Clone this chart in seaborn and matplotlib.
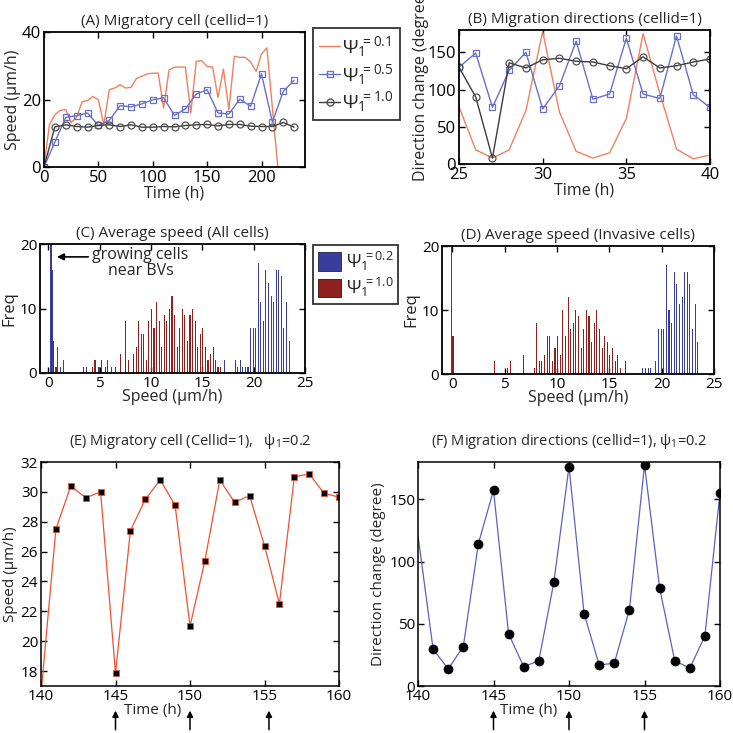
import numpy as np
import pandas as pd
import matplotlib
matplotlib.use("Agg")
import matplotlib.pyplot as plt
from matplotlib.patches import Patch
from matplotlib.lines import Line2D
import seaborn as sns

# ---------------- data ----------------
# (A) speed vs time
time_a_01 = [0, 5, 10, 15, 20, 25, 30, 35, 40, 45, 50, 55, 60, 65, 70, 75, 80, 85, 90, 95, 100,
             105, 110, 115, 120, 125, 130, 135, 140, 145, 150, 155, 160, 165, 170, 175, 180, 185,
             190, 195, 200, 205, 210, 215]
speed_a_01 = [0, 12.5, 15.5, 16.8, 17.0, 13.2, 14.7, 19.3, 19.7, 20.9, 19.9, 12.5, 22.9, 23.4, 24.4,
              23.4, 23.6, 26.2, 26.9, 27.6, 27.8, 27.8, 17.5, 28.8, 29.6, 29.6, 29.6, 16.0, 31.3,
              31.5, 29.8, 29.6, 20.6, 29.0, 17.0, 32.8, 32.5, 32.5, 31.1, 28.3, 33.5, 35.3, 17.5, 0]
time_a = [0, 10, 20, 30, 40, 50, 60, 70, 80, 90, 100, 110, 120, 130, 140, 150, 160, 170, 180, 190,
          200, 210, 220, 230]
speed_a_05 = [0, 7.4, 14.7, 15.2, 16.0, 12.3, 13.8, 18.2, 17.8, 18.7, 19.9, 20.5, 15.3, 17.2, 21.6,
              22.9, 16.0, 15.7, 20.1, 18.0, 27.6, 13.3, 22.4, 25.7]
speed_a_10 = [0, 11.9, 12.5, 12.0, 11.8, 12.3, 12.5, 12.0, 12.5, 11.8, 11.8, 12.0, 11.9, 12.3, 12.5,
              12.6, 12.2, 12.6, 12.6, 12.1, 12.0, 12.0, 13.2, 11.8]
labels_a = [r"$\Psi_1\!\!{}^{=0.1}$", r"$\Psi_1\!\!{}^{=0.5}$", r"$\Psi_1\!\!{}^{=1.0}$"]

# (B) direction change vs time
time_b = [25, 26, 27, 28, 29, 30, 31, 32, 33, 34, 35, 36, 37, 38, 39, 40]
dir_b_01 = [77, 19, 8, 19, 72, 178, 70, 17, 8, 15, 61, 175, 95, 20, 7, 12]
dir_b_05 = [130, 149, 76, 126, 150, 74, 105, 165, 87, 94, 169, 94, 88, 172, 93, 76]
dir_b_10 = [130, 90, 8, 136, 129, 140, 142, 138, 137, 132, 128, 144, 129, 132, 137, 141]

# (C) average speed histogram, all cells
c_blue_speed = [0.25, 0.5, 0.75, 1.0, 1.25, 1.5, 3.5, 3.75, 5.0, 5.25, 6.25, 16.5, 17.25, 18.25,
                18.5, 18.75, 19.0, 19.25, 19.5, 19.75, 20.0, 20.25, 20.5, 20.75, 21.0, 21.25, 21.5,
                21.75, 22.0, 22.25, 22.5, 22.75, 23.0, 23.25, 23.5]
c_blue_freq = [25, 16, 1, 4, 1, 2, 1, 1, 1, 2, 1, 1, 2, 2, 1, 2, 1, 1, 1, 7, 7, 7, 17, 11, 8, 16, 14,
               12, 11, 16, 16, 15, 7, 11, 5]
c_red_speed = [0.25, 0.5, 0.75, 4.25, 4.5, 5.5, 5.75, 6.5, 7.0, 7.5, 7.75, 8.25, 8.5, 8.75, 9.0,
               9.25, 9.5, 9.75, 10.0, 10.25, 10.5, 10.75, 11.0, 11.25, 11.5, 11.75, 12.0, 12.25,
               12.5, 12.75, 13.0, 13.25, 13.5, 13.75, 14.0, 14.25, 14.5, 14.75, 15.0, 15.25, 15.5,
               15.75, 16.0, 16.25, 16.5, 16.75]
c_red_freq = [25, 5, 1, 1, 2, 1, 2, 1, 3, 8, 2, 3, 4, 8, 6, 6, 2, 8, 10, 7, 11, 8, 4, 9, 8, 10, 12,
              9, 4, 7, 10, 9, 5, 9, 10, 8, 4, 6, 7, 4, 2, 3, 4, 2, 1, 1]

# (D) average speed histogram, invasive cells
d_blue_speed = [0.0, 18.25, 18.5, 18.75, 19.0, 19.5, 19.75, 20.0, 20.25, 20.5, 20.75, 21.0, 21.25,
                21.5, 21.75, 22.0, 22.25, 22.5, 22.75, 23.0, 23.25, 23.5]
d_blue_freq = [25, 1, 1, 1, 1, 2, 7, 7, 7, 17, 10, 8, 16, 14, 11, 12, 16, 16, 14, 7, 11, 5]
d_red_speed = [0.0, 4.0, 5.25, 5.5, 6.75, 7.75, 8.0, 8.25, 8.5, 8.75, 9.0, 9.25, 9.5, 9.75, 10.0,
               10.25, 10.5, 10.75, 11.0, 11.25, 11.5, 11.75, 12.0, 12.25, 12.5, 12.75, 13.0, 13.25,
               13.5, 13.75, 14.0, 14.25, 14.5, 14.75, 15.0, 15.25, 15.5, 15.75, 16.0, 16.5]
d_red_freq = [6, 2, 1, 2, 3, 1, 8, 2, 2, 3, 6, 6, 2, 4, 6, 3, 10, 6, 12, 7, 8, 10, 9, 4, 7, 10, 9,
              5, 8, 10, 7, 4, 6, 5, 3, 4, 2, 3, 1, 2]
labels_hist = [r"$\Psi_1\!\!{}^{=0.2}$", r"$\Psi_1\!\!{}^{=1.0}$"]

# (E)/(F) single cell, psi=0.2
time_ef = [140, 141, 142, 143, 144, 145, 146, 147, 148, 149, 150, 151, 152, 153, 154, 155, 156,
           157, 158, 159, 160]
speed_e = [16.5, 27.5, 30.4, 29.6, 30.0, 17.85, 27.4, 29.5, 30.8, 29.1, 21.0, 25.4, 30.8, 29.3,
           29.75, 26.4, 22.5, 31.0, 31.2, 29.9, 29.65]
dir_f = [121, 29.6, 13.7, 31.7, 114.5, 157.3, 41.9, 15.6, 20.2, 83.6, 176.3, 58.1, 16.9, 18.3,
         61.3, 177.7, 78.8, 20.4, 14.2, 40.3, 155.4]
arrow_times_e = [145, 150, 155.3]
arrow_times_f = [145, 150, 155]

# ---------------- style ----------------
sns.set_theme(style="ticks")
plt.rcParams["font.family"] = ["Open Sans", "DejaVu Sans"]
plt.rcParams["mathtext.fontset"] = "custom"
plt.rcParams["mathtext.rm"] = "Open Sans"
plt.rcParams["mathtext.it"] = "Open Sans:italic"
plt.rcParams["mathtext.bf"] = "Open Sans:bold"

ORANGE = "#f0805f"
LBLUE = "#6a70c8"
DGRAY = "#3c3c3c"
HBLUE = "#3a3d9c"
HRED = "#8e2020"

W = 733.0
fig = plt.figure(figsize=(7.33, 7.33), dpi=100)


def axes_px(l, t, r, b):
    return fig.add_axes([l / W, 1 - b / W, (r - l) / W, (b - t) / W])


def style_ax(ax, lw=1.3, tick_fs=12):
    for s in ax.spines.values():
        s.set_visible(True)
        s.set_linewidth(lw)
        s.set_color("black")
    ax.tick_params(direction="in", top=True, right=True, length=4, width=1,
                   labelsize=tick_fs, pad=2, colors="black")
    ax.set_facecolor("white")
    ax.grid(False)


# ---- (A)
axA = axes_px(44, 32, 305, 167)
sns.lineplot(x=time_a_01, y=speed_a_01, ax=axA, color=ORANGE, lw=1.0, sort=False, estimator=None)
sns.lineplot(x=time_a, y=speed_a_05, ax=axA, color=LBLUE, lw=1.0, marker="s", markersize=4.5,
             markerfacecolor="none", markeredgecolor=LBLUE, markeredgewidth=0.9, sort=False,
             estimator=None)
sns.lineplot(x=time_a, y=speed_a_10, ax=axA, color=DGRAY, lw=1.0, marker="o", markersize=5,
             markerfacecolor="none", markeredgecolor="#505050", markeredgewidth=0.9, sort=False,
             estimator=None)
axA.set_xlim(0, 240)
axA.set_ylim(0, 40)
axA.set_xticks([0, 50, 100, 150, 200])
axA.set_yticks([0, 20, 40])
style_ax(axA)
axA.set_xlabel("Time (h)", fontsize=11.5, labelpad=0)
axA.set_ylabel("Speed (μm/h)", fontsize=11.5, labelpad=1)
axA.set_title("(A) Migratory cell (cellid=1)", fontsize=11, pad=5)
handles_a = [
    Line2D([], [], color=ORANGE, lw=1.0),
    Line2D([], [], color=LBLUE, lw=1.0, marker="s", ms=4.5, mfc="none", mec=LBLUE),
    Line2D([], [], color=DGRAY, lw=1.0, marker="o", ms=5, mfc="none", mec="#505050"),
]
legA = fig.legend(handles_a, labels_a, loc="upper left", bbox_to_anchor=(313 / W, 1 - 28 / W),
                  fontsize=14, frameon=True, fancybox=False, edgecolor="black",
                  handlelength=1.1, handletextpad=0.1, borderpad=0.3, labelspacing=0.15,
                  borderaxespad=0)
legA.get_frame().set_linewidth(1.3)

# ---- (B)
axB = axes_px(459, 30, 710, 164)
sns.lineplot(x=time_b, y=dir_b_01, ax=axB, color=ORANGE, lw=1.0, sort=False, estimator=None)
sns.lineplot(x=time_b, y=dir_b_05, ax=axB, color=LBLUE, lw=1.0, marker="s", markersize=4.5,
             markerfacecolor="none", markeredgecolor=LBLUE, markeredgewidth=0.9, sort=False,
             estimator=None)
sns.lineplot(x=time_b, y=dir_b_10, ax=axB, color=DGRAY, lw=1.0, marker="o", markersize=5,
             markerfacecolor="none", markeredgecolor="#505050", markeredgewidth=0.9, sort=False,
             estimator=None)
axB.set_xlim(25, 40)
axB.set_ylim(0, 180)
axB.set_xticks([25, 30, 35, 40])
axB.set_yticks([0, 50, 100, 150])
style_ax(axB)
axB.set_xlabel("Time (h)", fontsize=11.5, labelpad=0)
axB.set_ylabel("Direction change (degree)", fontsize=11.5, labelpad=0)
axB.yaxis.set_label_coords(-0.12, 0.59)
axB.set_title("(B) Migration directions (cellid=1)", fontsize=11, pad=5)


# ---- histograms
def hist_panel(ax, bs, bf, rs, rf):
    df = pd.DataFrame({
        "speed": list(bs) + list(rs),
        "freq": list(bf) + list(rf),
        "psi": [labels_hist[0]] * len(bs) + [labels_hist[1]] * len(rs),
    })
    sns.histplot(data=df, x="speed", weights="freq", hue="psi", hue_order=labels_hist,
                 palette=[HBLUE, HRED], binwidth=0.25, binrange=(-0.125, 25.125),
                 multiple="dodge", shrink=0.85, alpha=1, linewidth=0, edgecolor="none",
                 legend=False, ax=ax)
    ax.set_ylim(0, 20)
    ax.set_yticks([0, 10, 20])
    ax.set_xticks([0, 5, 10, 15, 20, 25])
    style_ax(ax, tick_fs=11)
    ax.set_xlabel("Speed (μm/h)", fontsize=11.5, labelpad=-1)
    ax.set_ylabel("Freq", fontsize=12, labelpad=2)


axC = axes_px(40, 244, 305, 373)
hist_panel(axC, c_blue_speed, c_blue_freq, c_red_speed, c_red_freq)
axC.set_xlim(-0.8, 25)
axC.set_title("(C) Average speed (All cells)", fontsize=11, pad=5)
axC.annotate("", xy=(0.85, 18.0), xytext=(3.9, 18.0),
             arrowprops=dict(arrowstyle="-|>", color="black", lw=1.2, mutation_scale=10,
                             shrinkA=0, shrinkB=0))
axC.text(9.0, 19.5, "growing cells\nnear BVs", ha="center", va="top", fontsize=11.5,
         multialignment="center", linespacing=1.0)
legC = fig.legend([Patch(facecolor=HBLUE, edgecolor="#222244", lw=0.6),
                   Patch(facecolor=HRED, edgecolor="#331111", lw=0.6)],
                  labels_hist, loc="upper left", bbox_to_anchor=(313 / W, 1 - 245 / W),
                  fontsize=13, frameon=True, fancybox=False, edgecolor="black",
                  handlelength=1.3, handleheight=1.2, handletextpad=0.25, borderpad=0.25,
                  labelspacing=0.2, borderaxespad=0)
legC.get_frame().set_linewidth(1.3)

axD = axes_px(442, 246, 714, 374)
hist_panel(axD, d_blue_speed, d_blue_freq, d_red_speed, d_red_freq)
axD.set_xlim(-1, 25)
axD.set_title("(D) Average speed (Invasive cells)", fontsize=11, pad=5)

# ---- (E)
axE = axes_px(41, 462, 339, 686)
sns.lineplot(x=time_ef, y=speed_e, ax=axE, color="#ee5230", lw=0.9, marker="s", markersize=5,
             markerfacecolor="black", markeredgecolor="#ee5230", markeredgewidth=0.6,
             markevery=list(range(1, len(time_ef))), sort=False, estimator=None)
axE.set_xlim(140, 160)
axE.set_ylim(17, 32)
axE.set_xticks([140, 145, 150, 155, 160])
axE.set_yticks([18, 20, 22, 24, 26, 28, 30, 32])
style_ax(axE, lw=1.1, tick_fs=11)
axE.set_xlabel("Time (h)", fontsize=11, labelpad=0)
axE.xaxis.set_label_coords(0.375, -0.075)
axE.set_ylabel("Speed (μm/h)", fontsize=11, labelpad=2)
axE.set_title("(E) Migratory cell (Cellid=1),   ψ$_1$=0.2", fontsize=10.5, pad=12)

# ---- (F)
axF = axes_px(418, 462, 720, 686)
sns.lineplot(x=time_ef, y=dir_f, ax=axF, color="#5a62c0", lw=0.9, marker="o", markersize=6.5,
             markerfacecolor="black", markeredgecolor="black", markeredgewidth=0.5,
             markevery=list(range(1, len(time_ef))), sort=False, estimator=None)
axF.set_xlim(140, 160)
axF.set_ylim(0, 180)
axF.set_xticks([140, 145, 150, 155, 160])
axF.set_yticks([0, 50, 100, 150])
style_ax(axF, lw=1.1, tick_fs=11)
axF.set_xlabel("Time (h)", fontsize=11, labelpad=0)
axF.xaxis.set_label_coords(0.365, -0.075)
axF.set_ylabel("Direction change (degree)", fontsize=11, labelpad=2)
axF.set_title("(F) Migration directions (cellid=1), ψ$_1$=0.2", fontsize=10.5, pad=12)

# arrows under E and F
for ax, times in ((axE, arrow_times_e), (axF, arrow_times_f)):
    for t in times:
        ax.annotate("", xy=(t, -0.11), xytext=(t, -0.195), xycoords=ax.get_xaxis_transform(),
                    textcoords=ax.get_xaxis_transform(), annotation_clip=False,
                    arrowprops=dict(arrowstyle="-|>", color="black", lw=1.1, mutation_scale=9,
                                    shrinkA=0, shrinkB=0))

fig.savefig("out.png", dpi=100, facecolor="white")
